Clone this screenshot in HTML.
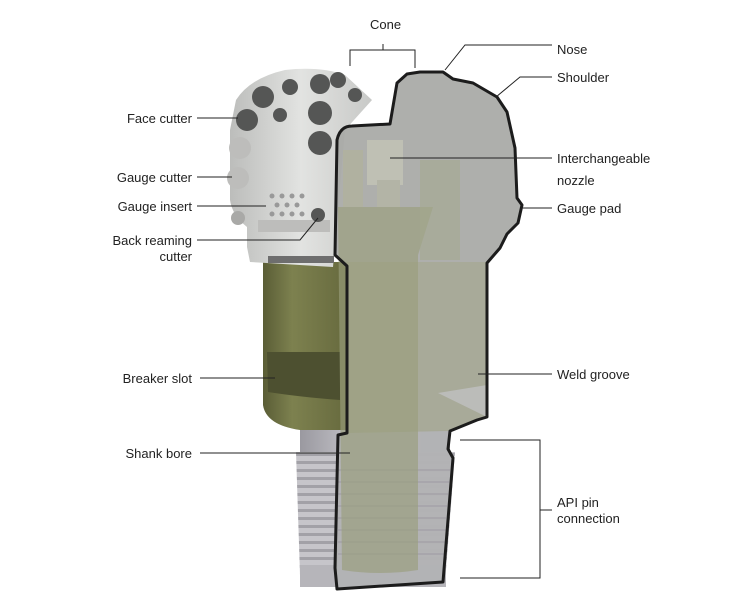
<!DOCTYPE html>
<html><head><meta charset="utf-8"><style>
html,body{margin:0;padding:0;background:#fff;}
svg{display:block}
text{font-family:"Liberation Sans",sans-serif;font-size:13px;fill:#222}
</style></head><body>
<svg width="750" height="606" viewBox="0 0 750 606" xmlns="http://www.w3.org/2000/svg">
<defs>
<linearGradient id="grn" x1="0" x2="1" y1="0" y2="0">
<stop offset="0" stop-color="#5a5d36"/><stop offset="0.35" stop-color="#7d814f"/><stop offset="1" stop-color="#676a3e"/></linearGradient>
<linearGradient id="shk" x1="0" x2="1" y1="0" y2="0">
<stop offset="0" stop-color="#9a99a0"/><stop offset="0.5" stop-color="#d3d2d7"/><stop offset="1" stop-color="#afaeb3"/></linearGradient>
<linearGradient id="head" x1="0" x2="1" y1="0" y2="0">
<stop offset="0" stop-color="#bcbdbb"/><stop offset="0.5" stop-color="#e2e3e1"/><stop offset="1" stop-color="#c8c9c7"/></linearGradient>
<pattern id="thr" width="10" height="8" patternUnits="userSpaceOnUse"><rect width="10" height="8" fill="#c6c5ca"/><rect y="5" width="10" height="3" fill="#a2a1a7"/></pattern>
</defs>
<!-- shank full -->
<rect x="300" y="430" width="150" height="22" fill="url(#shk)"/>
<path d="M296 452 L455 452 L446 570 L300 575 Z" fill="url(#thr)"/>
<rect x="300" y="565" width="146" height="22" fill="#b6b5ba"/>
<!-- green body left -->
<path d="M263 262 L347 262 L347 430 L300 430 Q266 425 263 405 Z" fill="url(#grn)"/>
<path d="M267 352 L340 352 L340 400 Q300 397 268 392 Z" fill="#4d5030"/>
<!-- head left -->
<path d="M236 100 Q250 78 285 70 Q320 66 345 75 L372 100 L345 130 L333 267 L250 262 L247 247 L247 227 Q232 215 230 200 L230 130 Z" fill="url(#head)"/>
<rect x="268" y="256" width="66" height="7" fill="#6e6e6e"/>
<rect x="258" y="220" width="72" height="12" fill="#bdbdbb"/>
<!-- cutters -->
<g fill="#555655">
<circle cx="263" cy="97" r="11"/><circle cx="247" cy="120" r="11"/><circle cx="290" cy="87" r="8"/><circle cx="320" cy="84" r="10"/><circle cx="338" cy="80" r="8"/><circle cx="355" cy="95" r="7"/>
<circle cx="280" cy="115" r="7"/><circle cx="320" cy="113" r="12"/><circle cx="320" cy="143" r="12"/><circle cx="318" cy="215" r="7"/>
</g>
<g fill="#bdbdbb"><circle cx="240" cy="148" r="11"/><circle cx="238" cy="178" r="11"/></g>
<circle cx="238" cy="218" r="7" fill="#a9a9a7"/>
<g fill="#999"><circle cx="272" cy="196" r="2.5"/><circle cx="282" cy="196" r="2.5"/><circle cx="292" cy="196" r="2.5"/><circle cx="302" cy="196" r="2.5"/><circle cx="277" cy="205" r="2.5"/><circle cx="287" cy="205" r="2.5"/><circle cx="297" cy="205" r="2.5"/><circle cx="272" cy="214" r="2.5"/><circle cx="282" cy="214" r="2.5"/><circle cx="292" cy="214" r="2.5"/><circle cx="302" cy="214" r="2.5"/></g>
<!-- cutaway transparent region -->
<path d="M335 255 L337 140 Q340 126 352 126 L390 124 L397 83 L407 74 L420 72 L443 72 L453 79 L473 83 L497 97 L507 112 L515 148 L517 198 L522 205 L518 223 L507 234 L500 248 L487 263 L487 417 L477 420 L450 431 L448 449 L453 458 L443 582 L337 589 L335 568 L338 435 L347 433 L347 266 Z" fill="#a8a9a6" fill-opacity="0.93"/>
<path d="M347 262 L487 262 L487 417 L450 431 L347 433 Z" fill="#a7a995" fill-opacity="0.85"/>
<path d="M347 433 L450 431 L448 449 L453 458 L443 582 L337 589 L338 435 Z" fill="#b7b6bb" fill-opacity="0.7"/>
<g stroke="#a19fa6" stroke-width="1.5" opacity="0.8"><line x1="338" y1="470" x2="450" y2="470"/><line x1="338" y1="482" x2="449" y2="482"/><line x1="338" y1="494" x2="448" y2="494"/><line x1="338" y1="506" x2="447" y2="506"/><line x1="338" y1="518" x2="446" y2="518"/><line x1="338" y1="530" x2="446" y2="530"/><line x1="338" y1="542" x2="445" y2="542"/><line x1="338" y1="554" x2="444" y2="554"/></g>
<!-- inner bore -->
<path d="M338 207 L433 207 L418 255 L418 570 Q380 576 342 570 Z" fill="#9a9e7c" fill-opacity="0.65"/>
<rect x="420" y="160" width="40" height="100" fill="#a4a78e" opacity="0.55"/>
<rect x="343" y="150" width="20" height="57" fill="#b0b29e" opacity="0.85"/>
<rect x="367" y="140" width="36" height="45" fill="#bfc0b4"/>
<rect x="377" y="180" width="23" height="27" fill="#b3b4a6"/>
<path d="M438 393 L487 385 L487 417 Z" fill="#bbbcb9"/>
<!-- outline -->
<path d="M335 255 L337 140 Q340 126 352 126 L390 124 L397 83 L407 74 L420 72 L443 72 L453 79 L473 83 L497 97 L507 112 L515 148 L517 198 L522 205 L518 223 L507 234 L500 248 L487 263 L487 417 L477 420 L450 431 L448 449 L453 458 L443 582 L337 589 L335 568 L338 435 L347 433 L347 266 Z" fill="none" stroke="#1c1c1c" stroke-width="3" stroke-linejoin="round"/>
<!-- leader lines -->
<g stroke="#222" stroke-width="1" fill="none">
<line x1="197" y1="118" x2="238" y2="118"/>
<line x1="197" y1="177" x2="232" y2="177"/>
<line x1="197" y1="206" x2="266" y2="206"/>
<polyline points="197,240 300,240 318,218"/>
<line x1="200" y1="378" x2="275" y2="378"/>
<line x1="200" y1="453" x2="350" y2="453"/>
<polyline points="350,66 350,50 415,50 415,68"/>
<line x1="383" y1="50" x2="383" y2="44"/>
<polyline points="552,45 465,45 445,70"/>
<polyline points="552,77 520,77 496,97"/>
<line x1="390" y1="158" x2="552" y2="158"/>
<line x1="522" y1="208" x2="552" y2="208"/>
<line x1="478" y1="374" x2="552" y2="374"/>
<polyline points="460,440 540,440 540,578 460,578"/>
<line x1="540" y1="510" x2="552" y2="510"/>
</g>
<text x="370" y="29">Cone</text>
<text x="557" y="54">Nose</text>
<text x="557" y="82">Shoulder</text>
<text x="557" y="163">Interchangeable</text>
<text x="557" y="185">nozzle</text>
<text x="557" y="213">Gauge pad</text>
<text x="557" y="379">Weld groove</text>
<text x="557" y="507">API pin</text>
<text x="557" y="523">connection</text>
<text x="192" y="123" text-anchor="end">Face cutter</text>
<text x="192" y="182" text-anchor="end">Gauge cutter</text>
<text x="192" y="211" text-anchor="end">Gauge insert</text>
<text x="192" y="245" text-anchor="end">Back reaming</text>
<text x="192" y="261" text-anchor="end">cutter</text>
<text x="192" y="383" text-anchor="end">Breaker slot</text>
<text x="192" y="458" text-anchor="end">Shank bore</text>
</svg>
</body></html>
